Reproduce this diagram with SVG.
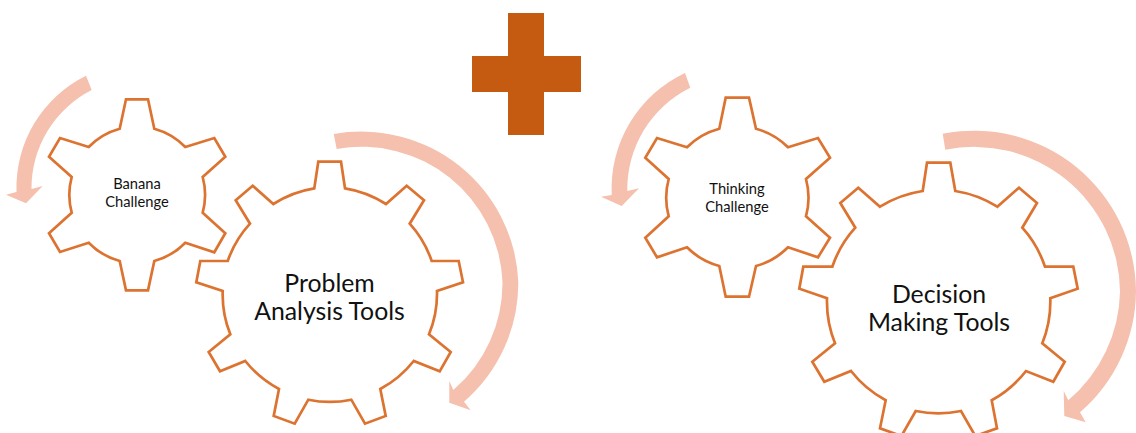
<svg xmlns="http://www.w3.org/2000/svg" width="1136" height="433" viewBox="0 0 1136 433">
<style>
.gear{fill:#fff;stroke:#DC7330;stroke-width:2.7;stroke-linejoin:miter}
.turn{fill:#F5C0AD}
text{font-family:"Lato","Liberation Sans",sans-serif;fill:#111;text-anchor:middle}
.s{font-size:14.7px}
.l{font-size:24.8px}
</style>
<rect width="1136" height="433" fill="#fff"/>
<g id="connectors">
<path class="turn" d="M86,75.7 A125,125 0 0 0 16.5,192 L6,194.7 L26,203.3 L42.7,186 L31.5,189 A110,110 0 0 1 91.7,90 Z"/>
<path class="turn" d="M333.7,134 A157,157 0 0 1 518.3,282 A157,157 0 0 1 464,401.7 L470.7,410.3 L449.3,402.7 L449.3,381 L453.3,390 A141,141 0 0 0 502.5,282 A141,141 0 0 0 336.7,149 Z"/>
<path class="turn" d="M685,73 A128,128 0 0 0 611.7,195 L601,196.7 L621.7,206 L639,188.3 L627.3,191 A113,113 0 0 1 690.3,87.7 Z"/>
<path class="turn" d="M942.7,133.7 A162,162 0 0 1 1136,291 A162,162 0 0 1 1080,412.3 L1085.7,422.3 L1064.3,416 L1063.7,391 L1068.3,400.3 A146,146 0 0 0 1120,291.7 A146,146 0 0 0 945.3,149.7 Z"/>
</g>
<g id="plus">
<path fill="#C55A11" d="M508,13 H544 V56 H581 V92 H544 V135 H508 V92 H472 V56 H508 Z"/>
</g>
<g id="banana-challenge">
<path class="gear" d="M126,99.3 H148 L154.3,128.7 A68.5,68.5 0 0 1 185.3,147 L214.3,138 L225.3,156.7 L202.7,177 A68.5,68.5 0 0 1 202.7,212.7 L225.3,233.3 L214.3,252.3 L185.3,242.7 A68.5,68.5 0 0 1 154.3,261 L148,290.3 H126 L119.7,261 A68.5,68.5 0 0 1 88.7,242.7 L60,252 L49,233.3 L71.7,212.7 A68.5,68.5 0 0 1 71.7,177 L49,156.7 L60,138 L88.7,147 A68.5,68.5 0 0 1 119.7,128.7 Z"/>
<text class="s" x="137" y="189">Banana</text>
<text class="s" x="137" y="207">Challenge</text>
</g>
<g id="problem-analysis-tools">
<path class="gear" d="M318.3,161.7 H341 L345,188.3 A107,107 0 0 1 386,204 L406.7,185.7 L424,200.3 L409.7,223.7 A107,107 0 0 1 431.7,261 H458.7 L463,282.3 L437,291 A107,107 0 0 1 429,334.3 L450.7,352 L439.7,371.3 L413.7,361 A107,107 0 0 1 380.3,389 L385.7,416 L365,423.7 L351.3,399.7 A107,107 0 0 1 308.3,399.7 L294.7,423.7 L273.7,416 L279,389 A107,107 0 0 1 245.3,361 L220,371.3 L208.7,352 L230.3,334.3 A107,107 0 0 1 222.7,291 L196.3,282.3 L200.3,261 H227.7 A107,107 0 0 1 250,223.7 L235.7,200.3 L252.7,185.7 L273.3,204 A107,107 0 0 1 314.3,188.3 Z"/>
<text class="l" x="329.5" y="291.5">Problem</text>
<text class="l" x="329.5" y="320">Analysis Tools</text>
</g>
<g id="thinking-challenge">
<path class="gear" d="M725.7,97.7 H749 L756,128.7 A71,71 0 0 1 788,147.3 L818,138 L830,157.7 L806,179 A71,71 0 0 1 806,216.3 L830,237.7 L818,257.3 L788,247.3 A71,71 0 0 1 756,266 L749,296.7 H725.7 L719.3,266 A71,71 0 0 1 687,247.3 L657,257.3 L645.3,237.7 L668.7,216.3 A71,71 0 0 1 668.7,179 L645.3,157.7 L657,138 L687,147.3 A71,71 0 0 1 719.3,128.7 Z"/>
<text class="s" x="737" y="194.3">Thinking</text>
<text class="s" x="737" y="211.5">Challenge</text>
</g>
<g id="decision-making-tools">
<path class="gear" d="M927,162.7 H950.3 L955.3,191 A112,112 0 0 1 997.3,206.7 L1019,187.7 L1037,203 L1022.3,227.7 A112,112 0 0 1 1045,266.7 H1073.3 L1077.7,288.7 L1050.3,298.3 A112,112 0 0 1 1042.3,343.3 L1064.7,361.7 L1053.3,381.7 L1026,371 A112,112 0 0 1 991.7,400.3 L997,428.3 L975.3,436 L961,411 A112,112 0 0 1 915.7,411 L901.4,436 L880,428.3 L885.7,400.3 A112,112 0 0 1 851,371 L824.3,381.7 L812.3,361.7 L835,343.3 A112,112 0 0 1 827,298.3 L799.3,288.7 L803.3,266.7 H832.3 A112,112 0 0 1 855.3,227.7 L840.3,203 L858.3,187.7 L880,206.7 A112,112 0 0 1 922.7,191 Z"/>
<text class="l" x="939" y="302.5">Decision</text>
<text class="l" x="939" y="331">Making Tools</text>
</g>
</svg>
